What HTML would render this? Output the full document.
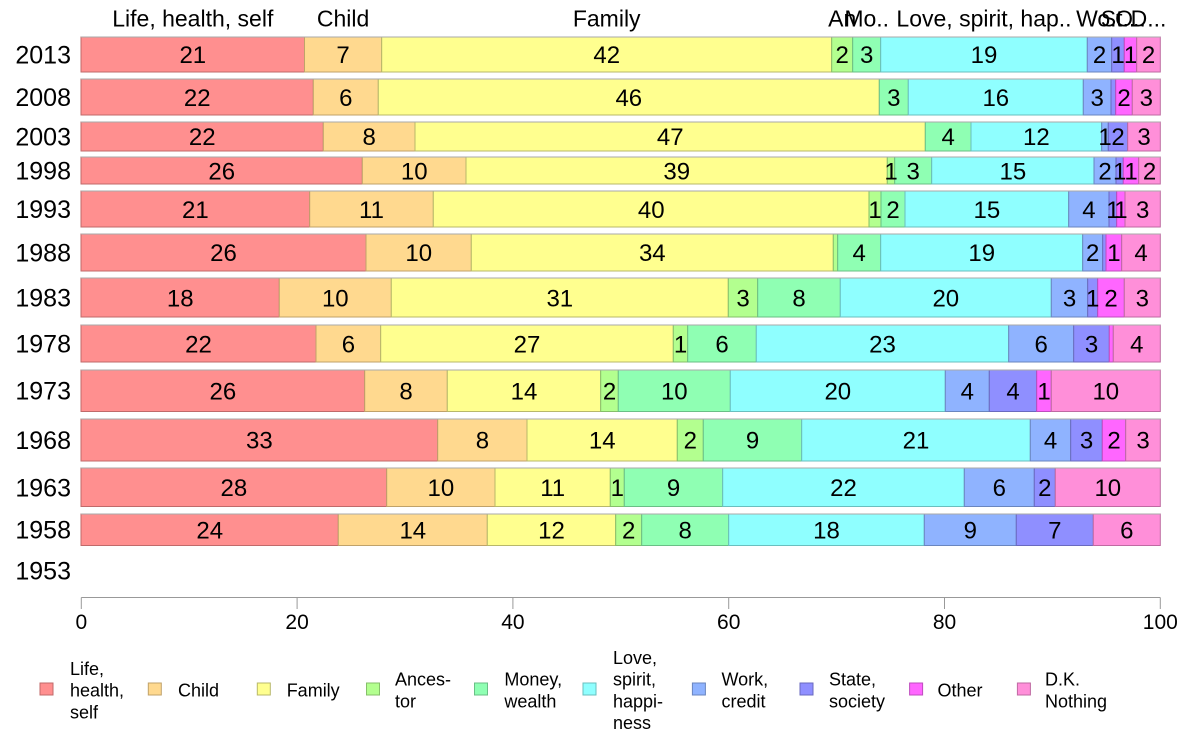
<!DOCTYPE html>
<html><head><meta charset="utf-8"><style>
html,body{margin:0;padding:0;background:#fff;}
svg{display:block;}
text{font-family:"Liberation Sans",Arial,sans-serif;fill:#000;}
.c0{fill:#FF8F8F;stroke:#C06A6A}
.c1{fill:#FFD98F;stroke:#C0A26A}
.c2{fill:#FFFF8F;stroke:#B8B86A}
.c3{fill:#B3FF8F;stroke:#86BF6A}
.c4{fill:#8FFFB3;stroke:#6ABF86}
.c5{fill:#8FFFFF;stroke:#6ABFBF}
.c6{fill:#8FB3FF;stroke:#6A86BF}
.c7{fill:#8F8FFF;stroke:#6A6ABF}
.c8{fill:#FF66FF;stroke:#BF4CBF}
.c9{fill:#FF8FD9;stroke:#BF6AA2}
rect{stroke-width:1}
.v text{font-size:24px;text-anchor:middle}
.yr text{font-size:25px;text-anchor:end}
.top text{font-size:23px;text-anchor:middle}
.tk text{font-size:21px;text-anchor:middle}
.lg text{font-size:18px}
.tl{stroke:#aaaaaa;stroke-width:1}
</style></head><body>
<svg width="1188" height="736" viewBox="0 0 1188 736" xmlns="http://www.w3.org/2000/svg">
<!-- 2013 -->
<g>
<rect class="c0" x="81" y="37" width="223.5" height="35"/>
<rect class="c1" x="304.5" y="37" width="77.2" height="35"/>
<rect class="c2" x="381.7" y="37" width="450" height="35"/>
<rect class="c3" x="831.7" y="37" width="21" height="35"/>
<rect class="c4" x="852.7" y="37" width="28" height="35"/>
<rect class="c5" x="880.7" y="37" width="206.6" height="35"/>
<rect class="c6" x="1087.3" y="37" width="24.4" height="35"/>
<rect class="c7" x="1111.7" y="37" width="12.6" height="35"/>
<rect class="c8" x="1124.3" y="37" width="12.4" height="35"/>
<rect class="c9" x="1136.7" y="37" width="23.6" height="35"/>
<line class="tl" x1="81" x2="1160.3" y1="37" y2="37"/>
</g>
<!-- 2008 -->
<g>
<rect class="c0" x="81" y="79" width="232.3" height="36"/>
<rect class="c1" x="313.3" y="79" width="65" height="36"/>
<rect class="c2" x="378.3" y="79" width="501" height="36"/>
<rect class="c4" x="879.3" y="79" width="29" height="36"/>
<rect class="c5" x="908.3" y="79" width="175" height="36"/>
<rect class="c6" x="1083.3" y="79" width="27.7" height="36"/>
<rect class="c7" x="1111" y="79" width="4.7" height="36"/>
<rect class="c8" x="1115.7" y="79" width="16.6" height="36"/>
<rect class="c9" x="1132.3" y="79" width="28" height="36"/>
<line class="tl" x1="81" x2="1160.3" y1="79" y2="79"/>
</g>
<!-- 2003 -->
<g>
<rect class="c0" x="81" y="122" width="242.3" height="29"/>
<rect class="c1" x="323.3" y="122" width="91.7" height="29"/>
<rect class="c2" x="415" y="122" width="510.3" height="29"/>
<rect class="c4" x="925.3" y="122" width="45.7" height="29"/>
<rect class="c5" x="971" y="122" width="130.7" height="29"/>
<rect class="c6" x="1101.7" y="122" width="6.6" height="29"/>
<rect class="c7" x="1108.3" y="122" width="19.4" height="29"/>
<rect class="c9" x="1127.7" y="122" width="32.6" height="29"/>
<line class="tl" x1="81" x2="1160.3" y1="122" y2="122"/>
</g>
<!-- 1998 -->
<g>
<rect class="c0" x="81" y="157" width="281.3" height="27"/>
<rect class="c1" x="362.3" y="157" width="103.7" height="27"/>
<rect class="c2" x="466" y="157" width="421.3" height="27"/>
<rect class="c3" x="887.3" y="157" width="7.4" height="27"/>
<rect class="c4" x="894.7" y="157" width="37" height="27"/>
<rect class="c5" x="931.7" y="157" width="162.3" height="27"/>
<rect class="c6" x="1094" y="157" width="22" height="27"/>
<rect class="c7" x="1116" y="157" width="7.3" height="27"/>
<rect class="c8" x="1123.3" y="157" width="15.4" height="27"/>
<rect class="c9" x="1138.7" y="157" width="21.6" height="27"/>
<line class="tl" x1="81" x2="1160.3" y1="157" y2="157"/>
</g>
<!-- 1993 -->
<g>
<rect class="c0" x="81" y="191" width="228.7" height="36"/>
<rect class="c1" x="309.7" y="191" width="123.6" height="36"/>
<rect class="c2" x="433.3" y="191" width="435.7" height="36"/>
<rect class="c3" x="869" y="191" width="12" height="36"/>
<rect class="c4" x="881" y="191" width="24" height="36"/>
<rect class="c5" x="905" y="191" width="163.7" height="36"/>
<rect class="c6" x="1068.7" y="191" width="40.3" height="36"/>
<rect class="c7" x="1109" y="191" width="7.7" height="36"/>
<rect class="c8" x="1116.7" y="191" width="8.3" height="36"/>
<rect class="c9" x="1125" y="191" width="35.3" height="36"/>
<line class="tl" x1="81" x2="1160.3" y1="191" y2="191"/>
</g>
<!-- 1988 -->
<g>
<rect class="c0" x="81" y="234" width="285" height="37"/>
<rect class="c1" x="366" y="234" width="105.3" height="37"/>
<rect class="c2" x="471.3" y="234" width="362" height="37"/>
<rect class="c3" x="833.3" y="234" width="4.4" height="37"/>
<rect class="c4" x="837.7" y="234" width="43" height="37"/>
<rect class="c5" x="880.7" y="234" width="202" height="37"/>
<rect class="c6" x="1082.7" y="234" width="20" height="37"/>
<rect class="c7" x="1102.7" y="234" width="3.3" height="37"/>
<rect class="c8" x="1106" y="234" width="15.7" height="37"/>
<rect class="c9" x="1121.7" y="234" width="38.6" height="37"/>
<line class="tl" x1="81" x2="1160.3" y1="234" y2="234"/>
</g>
<!-- 1983 -->
<g>
<rect class="c0" x="81" y="278" width="198.3" height="39"/>
<rect class="c1" x="279.3" y="278" width="112" height="39"/>
<rect class="c2" x="391.3" y="278" width="337" height="39"/>
<rect class="c3" x="728.3" y="278" width="29.4" height="39"/>
<rect class="c4" x="757.7" y="278" width="82.6" height="39"/>
<rect class="c5" x="840.3" y="278" width="211" height="39"/>
<rect class="c6" x="1051.3" y="278" width="36.4" height="39"/>
<rect class="c7" x="1087.7" y="278" width="10" height="39"/>
<rect class="c8" x="1097.7" y="278" width="26.6" height="39"/>
<rect class="c9" x="1124.3" y="278" width="36" height="39"/>
<line class="tl" x1="81" x2="1160.3" y1="278" y2="278"/>
</g>
<!-- 1978 -->
<g>
<rect class="c0" x="81" y="325" width="235" height="37"/>
<rect class="c1" x="316" y="325" width="64.7" height="37"/>
<rect class="c2" x="380.7" y="325" width="292.6" height="37"/>
<rect class="c3" x="673.3" y="325" width="14.4" height="37"/>
<rect class="c4" x="687.7" y="325" width="68.6" height="37"/>
<rect class="c5" x="756.3" y="325" width="252.4" height="37"/>
<rect class="c6" x="1008.7" y="325" width="65" height="37"/>
<rect class="c7" x="1073.7" y="325" width="35.6" height="37"/>
<rect class="c8" x="1109.3" y="325" width="4" height="37"/>
<rect class="c9" x="1113.3" y="325" width="47" height="37"/>
<line class="tl" x1="81" x2="1160.3" y1="325" y2="325"/>
</g>
<!-- 1973 -->
<g>
<rect class="c0" x="81" y="370" width="283.7" height="41.5"/>
<rect class="c1" x="364.7" y="370" width="82.6" height="41.5"/>
<rect class="c2" x="447.3" y="370" width="153.4" height="41.5"/>
<rect class="c3" x="600.7" y="370" width="17.6" height="41.5"/>
<rect class="c4" x="618.3" y="370" width="112" height="41.5"/>
<rect class="c5" x="730.3" y="370" width="215" height="41.5"/>
<rect class="c6" x="945.3" y="370" width="44" height="41.5"/>
<rect class="c7" x="989.3" y="370" width="47.4" height="41.5"/>
<rect class="c8" x="1036.7" y="370" width="14.6" height="41.5"/>
<rect class="c9" x="1051.3" y="370" width="109" height="41.5"/>
<line class="tl" x1="81" x2="1160.3" y1="370" y2="370"/>
</g>
<!-- 1968 -->
<g>
<rect class="c0" x="81" y="419" width="356.7" height="42"/>
<rect class="c1" x="437.7" y="419" width="89.3" height="42"/>
<rect class="c2" x="527" y="419" width="150.3" height="42"/>
<rect class="c3" x="677.3" y="419" width="26" height="42"/>
<rect class="c4" x="703.3" y="419" width="98.4" height="42"/>
<rect class="c5" x="801.7" y="419" width="228.6" height="42"/>
<rect class="c6" x="1030.3" y="419" width="40.4" height="42"/>
<rect class="c7" x="1070.7" y="419" width="31.6" height="42"/>
<rect class="c8" x="1102.3" y="419" width="23.4" height="42"/>
<rect class="c9" x="1125.7" y="419" width="34.6" height="42"/>
<line class="tl" x1="81" x2="1160.3" y1="419" y2="419"/>
</g>
<!-- 1963 -->
<g>
<rect class="c0" x="81" y="468" width="305.7" height="38.5"/>
<rect class="c1" x="386.7" y="468" width="108.3" height="38.5"/>
<rect class="c2" x="495" y="468" width="115.3" height="38.5"/>
<rect class="c3" x="610.3" y="468" width="14" height="38.5"/>
<rect class="c4" x="624.3" y="468" width="98.4" height="38.5"/>
<rect class="c5" x="722.7" y="468" width="241.6" height="38.5"/>
<rect class="c6" x="964.3" y="468" width="70" height="38.5"/>
<rect class="c7" x="1034.3" y="468" width="21" height="38.5"/>
<rect class="c9" x="1055.3" y="468" width="105" height="38.5"/>
<line class="tl" x1="81" x2="1160.3" y1="468" y2="468"/>
</g>
<!-- 1958 -->
<g>
<rect class="c0" x="81" y="514" width="257.3" height="31.5"/>
<rect class="c1" x="338.3" y="514" width="149" height="31.5"/>
<rect class="c2" x="487.3" y="514" width="128.4" height="31.5"/>
<rect class="c3" x="615.7" y="514" width="26" height="31.5"/>
<rect class="c4" x="641.7" y="514" width="87" height="31.5"/>
<rect class="c5" x="728.7" y="514" width="195.6" height="31.5"/>
<rect class="c6" x="924.3" y="514" width="92" height="31.5"/>
<rect class="c7" x="1016.3" y="514" width="77" height="31.5"/>
<rect class="c9" x="1093.3" y="514" width="67" height="31.5"/>
<line class="tl" x1="81" x2="1160.3" y1="514" y2="514"/>
</g>

<!-- value labels -->
<g class="v">
<text x="192.8" y="63.1">21</text><text x="343.1" y="63.1">7</text><text x="606.7" y="63.1">42</text><text x="842.2" y="63.1">2</text><text x="866.7" y="63.1">3</text><text x="984" y="63.1">19</text><text x="1099.5" y="63.1">2</text><text x="1118" y="63.1">1</text><text x="1130.5" y="63.1">1</text><text x="1148.5" y="63.1">2</text>
<text x="197.2" y="105.8">22</text><text x="345.8" y="105.8">6</text><text x="628.8" y="105.8">46</text><text x="893.8" y="105.8">3</text><text x="995.8" y="105.8">16</text><text x="1097.2" y="105.8">3</text><text x="1124" y="105.8">2</text><text x="1146.3" y="105.8">3</text>
<text x="202.2" y="144.9">22</text><text x="369.2" y="144.9">8</text><text x="670.2" y="144.9">47</text><text x="948.2" y="144.9">4</text><text x="1036.4" y="144.9">12</text><text x="1105" y="144.9">1</text><text x="1118" y="144.9">2</text><text x="1144" y="144.9">3</text>
<text x="221.7" y="179.3">26</text><text x="414.2" y="179.3">10</text><text x="676.7" y="179.3">39</text><text x="891" y="179.3">1</text><text x="913.2" y="179.3">3</text><text x="1012.9" y="179.3">15</text><text x="1105" y="179.3">2</text><text x="1119.7" y="179.3">1</text><text x="1131" y="179.3">1</text><text x="1149.5" y="179.3">2</text>
<text x="195.4" y="217.8">21</text><text x="371.5" y="217.8">11</text><text x="651.2" y="217.8">40</text><text x="875" y="217.8">1</text><text x="893" y="217.8">2</text><text x="986.9" y="217.8">15</text><text x="1088.9" y="217.8">4</text><text x="1112.9" y="217.8">1</text><text x="1120.9" y="217.8">1</text><text x="1142.7" y="217.8">3</text>
<text x="223.5" y="260.9">26</text><text x="418.7" y="260.9">10</text><text x="652.3" y="260.9">34</text><text x="859.2" y="260.9">4</text><text x="981.7" y="260.9">19</text><text x="1092.7" y="260.9">2</text><text x="1113.9" y="260.9">1</text><text x="1141" y="260.9">4</text>
<text x="180.2" y="306.3">18</text><text x="335.3" y="306.3">10</text><text x="559.8" y="306.3">31</text><text x="743" y="306.3">3</text><text x="799" y="306.3">8</text><text x="945.8" y="306.3">20</text><text x="1069.5" y="306.3">3</text><text x="1092.7" y="306.3">1</text><text x="1111" y="306.3">2</text><text x="1142.3" y="306.3">3</text>
<text x="198.5" y="352.3">22</text><text x="348.4" y="352.3">6</text><text x="527" y="352.3">27</text><text x="680.5" y="352.3">1</text><text x="722" y="352.3">6</text><text x="882.5" y="352.3">23</text><text x="1041.2" y="352.3">6</text><text x="1091.5" y="352.3">3</text><text x="1136.8" y="352.3">4</text>
<text x="222.9" y="399.3">26</text><text x="406" y="399.3">8</text><text x="524" y="399.3">14</text><text x="609.5" y="399.3">2</text><text x="674.3" y="399.3">10</text><text x="837.8" y="399.3">20</text><text x="967.3" y="399.3">4</text><text x="1013" y="399.3">4</text><text x="1044" y="399.3">1</text><text x="1105.8" y="399.3">10</text>
<text x="259.4" y="448.6">33</text><text x="482.4" y="448.6">8</text><text x="602.2" y="448.6">14</text><text x="690.3" y="448.6">2</text><text x="752.5" y="448.6">9</text><text x="916" y="448.6">21</text><text x="1050.5" y="448.6">4</text><text x="1086.5" y="448.6">3</text><text x="1114" y="448.6">2</text><text x="1143" y="448.6">3</text>
<text x="233.9" y="495.9">28</text><text x="440.9" y="495.9">10</text><text x="552.7" y="495.9">11</text><text x="617.3" y="495.9">1</text><text x="673.5" y="495.9">9</text><text x="843.5" y="495.9">22</text><text x="999.3" y="495.9">6</text><text x="1044.8" y="495.9">2</text><text x="1107.8" y="495.9">10</text>
<text x="209.7" y="538.4">24</text><text x="412.8" y="538.4">14</text><text x="551.5" y="538.4">12</text><text x="628.7" y="538.4">2</text><text x="685.2" y="538.4">8</text><text x="826.5" y="538.4">18</text><text x="970.3" y="538.4">9</text><text x="1054.8" y="538.4">7</text><text x="1126.8" y="538.4">6</text>
</g>

<!-- year labels -->
<g class="yr">
<text x="71" y="63.5">2013</text>
<text x="71" y="106">2008</text>
<text x="71" y="145.3">2003</text>
<text x="71" y="179.7">1998</text>
<text x="71" y="218">1993</text>
<text x="71" y="261.3">1988</text>
<text x="71" y="306.7">1983</text>
<text x="71" y="352.7">1978</text>
<text x="71" y="399.7">1973</text>
<text x="71" y="449">1968</text>
<text x="71" y="496.3">1963</text>
<text x="71" y="538.7">1958</text>
<text x="71" y="579.5">1953</text>
</g>

<!-- top category labels -->
<g class="top">
<text x="192.8" y="26.5">Life, health, self</text>
<text x="343.1" y="26.5">Child</text>
<text x="606.7" y="26.5">Family</text>
<text x="842.2" y="26.5">An</text>
<text x="866.7" y="26.5">Mo..</text>
<text x="984" y="26.5">Love, spirit, hap..</text>
<text x="1099.5" y="26.5">Wo..</text>
<text x="1118" y="26.5">St..</text>
<text x="1130.5" y="26.5">O..</text>
<text x="1148.5" y="26.5">D...</text>
</g>

<!-- x axis -->
<g stroke="#999" stroke-width="1">
<line x1="81.3" x2="1160.3" y1="597.5" y2="597.5"/>
<line x1="81.3" x2="81.3" y1="597.5" y2="609"/>
<line x1="297.1" x2="297.1" y1="597.5" y2="609"/>
<line x1="512.9" x2="512.9" y1="597.5" y2="609"/>
<line x1="728.7" x2="728.7" y1="597.5" y2="609"/>
<line x1="944.5" x2="944.5" y1="597.5" y2="609"/>
<line x1="1160.3" x2="1160.3" y1="597.5" y2="609"/>
</g>
<g class="tk">
<text x="81.3" y="629">0</text>
<text x="297.1" y="629">20</text>
<text x="512.9" y="629">40</text>
<text x="728.7" y="629">60</text>
<text x="944.5" y="629">80</text>
<text x="1160.3" y="629">100</text>
</g>

<!-- legend -->
<g>
<rect class="c0" x="40" y="683" width="13" height="12"/>
<rect class="c1" x="148.3" y="683" width="13" height="12"/>
<rect class="c2" x="257.3" y="683" width="13" height="12"/>
<rect class="c3" x="366.5" y="683" width="13" height="12"/>
<rect class="c4" x="474.5" y="683" width="13" height="12"/>
<rect class="c5" x="583" y="683" width="13" height="12"/>
<rect class="c6" x="692.4" y="683" width="13" height="12"/>
<rect class="c7" x="800" y="683" width="13" height="12"/>
<rect class="c8" x="909.6" y="683" width="13" height="12"/>
<rect class="c9" x="1017.4" y="683" width="13" height="12"/>
</g>
<g class="lg">
<text x="70" y="675">Life,</text>
<text x="70" y="696.7">health,</text>
<text x="70" y="718.3">self</text>
<text x="178" y="696.7">Child</text>
<text x="286.7" y="696.7">Family</text>
<text x="395" y="685.7">Ances-</text>
<text x="395" y="707.3">tor</text>
<text x="504.4" y="685.7">Money,</text>
<text x="504.4" y="707.3">wealth</text>
<text x="613" y="664">Love,</text>
<text x="613" y="685.7">spirit,</text>
<text x="613" y="707.3">happi-</text>
<text x="613" y="729">ness</text>
<text x="721.5" y="685.7">Work,</text>
<text x="721.5" y="707.3">credit</text>
<text x="829" y="685.7">State,</text>
<text x="829" y="707.3">society</text>
<text x="937.5" y="696.7">Other</text>
<text x="1045" y="685.7">D.K.</text>
<text x="1045" y="707.3">Nothing</text>
</g>
</svg>
</body></html>
